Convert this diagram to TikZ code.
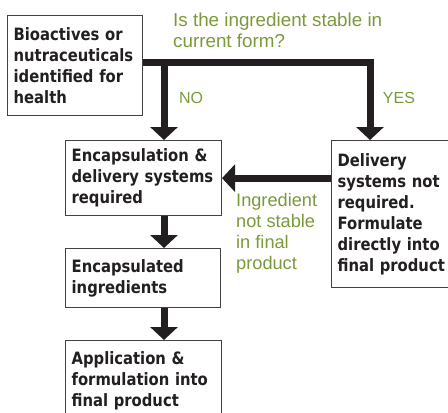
\documentclass[tikz,border=0pt]{standalone}
\usepackage{fontspec}
\setmainfont{Liberation Sans}
\newfontfamily\narrowsans{DejaVu Sans}[FakeStretch=0.87]
\usepackage{xcolor}
\usepackage{tikz}
\usetikzlibrary{
  arrows.meta,
  positioning
}
\definecolor{ink}{RGB}{35,31,32}
\definecolor{leaf}{RGB}{122,154,58}
\hyphenpenalty=10000
\exhyphenpenalty=10000

\begin{document}
\begin{tikzpicture}[x=1pt,y=-1pt,every text node part/.style={align=left},
  stage/.style={rectangle,draw=ink!85,line width=1.3pt,fill=white,anchor=north west,
    inner xsep=6pt,inner ysep=3pt,text=ink,font=\narrowsans\bfseries\fontsize{17}{21}\selectfont},
  flow/.style={draw=ink,line width=7pt,-{Triangle[width=27pt,length=13pt]}},
  note/.style={text=leaf,inner sep=0pt,font=\fontsize{18.2}{21}\selectfont}]
  \useasboundingbox (0,0) rectangle (448,413);
  \clip (0,0) rectangle (448,413);

  \node[stage,text width=122.7pt,minimum height=100pt] (1) at (7,15)
    {Bioactives or\\nutraceuticals\\identified for\\health};
  \node[stage,text width=143.7pt,minimum height=75pt] (2) at (65,140)
    {Encapsulation \&\\delivery systems\\required};
  \node[stage,text width=116pt,minimum height=147pt] (3) at (331,140)
    {Delivery\\systems not\\required.\\Formulate\\directly into\\final product};
  \node[stage,text width=142.7pt,minimum height=59pt] (4) at (65,248)
    {Encapsulated\\ingredients};
  \node[stage,text width=143.7pt,minimum height=80pt] (5) at (65,340)
    {Application \&\\formulation into\\final product};

  \coordinate (fork) at (164,62);
  \coordinate (turn) at (370,62);
  \draw[flow] (1.east |- fork) -| (3.north -| turn);
  \draw[flow] (fork) -- (2.north -| fork);
  \draw[flow] (2.south -| fork) -- (4.north -| fork);
  \draw[flow] (4.south -| fork) -- (5.north -| fork);
  \draw[flow] (3.west |- 2.east) -- (2.east);

  \node[note,anchor=north west,font=\fontsize{18.8}{21}\selectfont] (6) at (173,13)
    {Is the ingredient stable in\\current form?};
  \node[note,font=\fontsize{16}{19}\selectfont] (7) at (191,98) {NO};
  \node[note,font=\fontsize{16}{19}\selectfont] (8) at (399,98) {YES};
  \node[note,anchor=north west] (9) at (236,193) {Ingredient\\not stable\\in final\\product};
\end{tikzpicture}
\end{document}
